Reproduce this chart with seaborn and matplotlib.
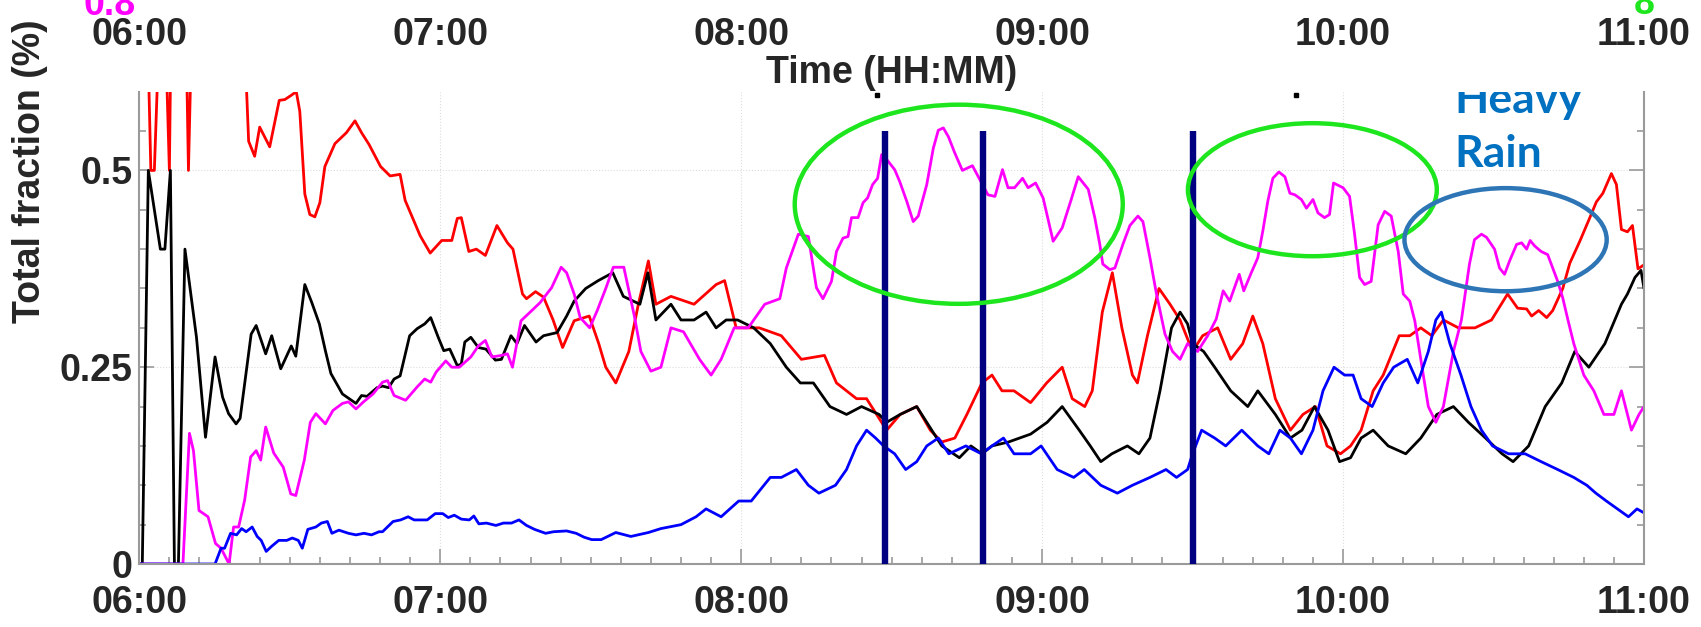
import numpy as np
import pandas as pd
import matplotlib
matplotlib.use("Agg")
import matplotlib.pyplot as plt
import matplotlib.transforms as mtransforms
from matplotlib.patches import Ellipse
from matplotlib.ticker import MultipleLocator, FixedLocator, FuncFormatter
import seaborn as sns

# ---- series: minutes after 06:00 and total fraction ----
red_min = [0, 1.5, 2.3, 3.0, 4.2, 5.0, 6.0, 6.4, 9.2, 9.8, 10.6, 15, 21.4, 21.8, 23, 24, 26, 27.9, 29, 30.2,
           31.3, 32, 33, 34, 35, 36, 37, 39, 41.3, 43, 44.3, 45.8, 48.1, 50, 52, 53, 54.6, 56, 58, 60.3,
           62.3, 63.4, 64.2, 65.7, 67.2, 69, 71.3, 73.4, 74.5, 76.4, 77.2, 79, 80.6, 82.5, 84.4, 86.7, 89.7,
           91.6, 93, 95, 97.6, 99.5, 101.5, 103, 106, 110.6, 115, 116.7, 119, 123.6, 128, 132, 136.6, 139,
           143, 145, 149, 151.7, 155, 157.7, 160, 162.6, 165, 168, 170, 172, 174.4, 177.7, 180.9, 184, 186,
           188.5, 190, 192, 194, 195.9, 198, 199, 201, 203.3, 205.5, 207.5, 210, 212, 215, 217.6, 220, 222,
           224, 226.5, 229.5, 232, 234.5, 236.8, 239.5, 241.5, 243.6, 246, 248, 251.2, 253.3, 255.5, 257.7,
           260, 263, 266.3, 269.6, 272.8, 273.8, 274.8, 276.6, 277.6, 279, 280.6, 281.8, 283.8, 285.2, 287.2,
           289.2, 290.5, 291.8, 293.5, 294.5, 295.5, 296.7, 297.7, 298.8, 300]
red_val = [0.72, 0.72, 0.50, 0.50, 0.72, 0.72, 0.50, 0.72, 0.72, 0.50, 0.72, 0.70, 0.60, 0.537, 0.518, 0.555,
           0.53, 0.589, 0.59, 0.595, 0.60, 0.575, 0.47, 0.444, 0.441, 0.459, 0.505, 0.534, 0.548, 0.563, 0.548,
           0.533, 0.505, 0.493, 0.495, 0.462, 0.438, 0.417, 0.395, 0.411, 0.411, 0.439, 0.44, 0.397, 0.40,
           0.392, 0.43, 0.408, 0.40, 0.343, 0.337, 0.346, 0.339, 0.31, 0.275, 0.309, 0.315, 0.28, 0.25, 0.23,
           0.27, 0.33, 0.385, 0.33, 0.34, 0.33, 0.355, 0.36, 0.30, 0.30, 0.29, 0.26, 0.265, 0.23, 0.21, 0.21,
           0.17, 0.19, 0.20, 0.17, 0.155, 0.16, 0.19, 0.23, 0.24, 0.22, 0.22, 0.205, 0.23, 0.25, 0.21, 0.20,
           0.22, 0.32, 0.37, 0.30, 0.24, 0.23, 0.29, 0.35, 0.33, 0.31, 0.27, 0.29, 0.30, 0.26, 0.28, 0.315,
           0.28, 0.21, 0.17, 0.19, 0.20, 0.15, 0.14, 0.15, 0.17, 0.22, 0.24, 0.29, 0.29, 0.30, 0.29, 0.31,
           0.30, 0.30, 0.31, 0.343, 0.334, 0.325, 0.324, 0.315, 0.322, 0.313, 0.322, 0.35, 0.382, 0.41, 0.44,
           0.46, 0.471, 0.496, 0.482, 0.425, 0.422, 0.43, 0.375, 0.38]

black_min = [0, 0.6, 1.8, 4.2, 5.1, 6.2, 7.0, 7.8, 9.1, 11.4, 13.2, 15.1, 16.6, 17.8, 19.3, 20.1, 22.3, 23.3,
             25.2, 26.4, 28.2, 30.3, 31.2, 33, 34.4, 35.9, 37.1, 38.2, 40.5, 43.2, 44.3, 45.4, 47.4, 48.5,
             49.7, 50.8, 52, 53.9, 55.4, 56.9, 58.1, 59.6, 60.7, 61.9, 63.4, 64.2, 64.9, 66.1, 67.6, 69.1, 71,
             72.2, 74.1, 75.3, 76.8, 79.1, 80.6, 83.3, 85.2, 86.7, 89, 91.5, 94.4, 96.5, 99.8, 101.4, 103, 106,
             108, 110.6, 113, 115, 117, 119.3, 122.5, 125.8, 129, 131.8, 134.4, 137.7, 141, 144, 147.5, 149,
             151.7, 155, 157, 160, 163.5, 165.8, 168, 170, 173.3, 177.7, 181, 184, 187.4, 189.6, 191.7, 193.9,
             197, 199.3, 201.5, 203.5, 205.8, 207.5, 209, 210, 212.2, 214.4, 217.6, 221, 223, 226.5, 229.5,
             231.8, 234.3, 237, 239.3, 241.5, 243.6, 246, 249, 252.5, 255.5, 258.7, 262, 265, 268.4, 271.7,
             273.9, 277, 280.3, 283.6, 286.2, 289, 292.2, 295.5, 296.7, 298.2, 299.4, 300]
black_val = [0, 0, 0.50, 0.40, 0.40, 0.50, 0, 0, 0.40, 0.288, 0.161, 0.263, 0.212, 0.191, 0.178, 0.185, 0.292,
             0.303, 0.267, 0.29, 0.248, 0.277, 0.264, 0.355, 0.332, 0.305, 0.271, 0.242, 0.216, 0.204, 0.214,
             0.213, 0.224, 0.226, 0.224, 0.235, 0.239, 0.29, 0.299, 0.305, 0.313, 0.288, 0.271, 0.273, 0.252,
             0.254, 0.282, 0.288, 0.275, 0.273, 0.259, 0.26, 0.29, 0.28, 0.303, 0.282, 0.29, 0.294, 0.315,
             0.334, 0.35, 0.36, 0.37, 0.34, 0.33, 0.37, 0.31, 0.33, 0.31, 0.31, 0.32, 0.30, 0.31, 0.31, 0.30,
             0.28, 0.25, 0.23, 0.23, 0.20, 0.19, 0.20, 0.19, 0.18, 0.19, 0.20, 0.18, 0.15, 0.135, 0.15, 0.14,
             0.15, 0.155, 0.165, 0.18, 0.20, 0.17, 0.15, 0.13, 0.14, 0.15, 0.14, 0.16, 0.22, 0.30, 0.32, 0.305,
             0.28, 0.27, 0.25, 0.22, 0.20, 0.22, 0.19, 0.16, 0.17, 0.20, 0.17, 0.13, 0.135, 0.16, 0.17, 0.15,
             0.14, 0.16, 0.19, 0.20, 0.18, 0.16, 0.14, 0.13, 0.15, 0.20, 0.23, 0.27, 0.25, 0.28, 0.33, 0.343,
             0.364, 0.373, 0.35]

magenta_min = [0, 8.7, 10, 10.8, 11.9, 13.7, 15.2, 16.3, 17.9, 18.8, 19.8, 21, 22.2, 23.3, 24.2, 25.2, 26.8,
               28.7, 30.2, 31.2, 32.9, 34.1, 35.2, 37.1, 38.6, 40.5, 41.7, 43.2, 44.7, 46.6, 48.5, 49.5, 50.8,
               53.1, 55.4, 56.9, 58.1, 59.2, 61.1, 62.3, 63.8, 66.1, 67.6, 69, 70.3, 72.2, 73.4, 74.4, 76.1,
               77.6, 79.9, 82.2, 84.1, 85.2, 86.7, 87.9, 89.8, 91.3, 93, 94.5, 96.6, 98.7, 100, 102, 104, 106,
               108.5, 111.7, 114, 116, 118.6, 121.4, 124.7, 127.7, 129, 131.4, 133.4, 135, 136.3, 138, 139,
               140.3, 141.3, 142, 143.3, 144.3, 145.2, 146.2, 147.2, 148, 149, 150.6, 151.6, 153, 154.3, 155.3,
               157, 158.3, 159.3, 160.3, 161.3, 162.6, 164.1, 166.1, 167.6, 169.2, 170.6, 172.1, 173.2, 174.5,
               176.1, 177.2, 178.7, 180.2, 182.2, 184, 185.8, 187.2, 189.2, 190.5, 191.5, 192.1, 193.5, 194.5,
               196.1, 197.5, 199.1, 200.1, 201.5, 202.8, 204.5, 206, 207.5, 209, 211, 213, 214.7, 216.1, 217.4,
               219.3, 220.2, 221.7, 223, 224, 225, 226, 227.2, 228.4, 229.4, 230.4, 231.7, 232.7, 234, 235,
               236.3, 237.3, 238.1, 240, 241.3, 242.3, 243.3, 244.3, 245.6, 247, 248.3, 249.6, 251, 252, 253.3,
               254.3, 255.5, 257, 258.5, 260, 262, 263.6, 265.2, 266.2, 267.6, 268.6, 270.2, 271.2, 272.2,
               273.2, 274.6, 275.6, 276.6, 277.3, 278.2, 279.5, 280.8, 281.8, 282.8, 283.8, 284.8, 286, 288,
               290, 292, 294, 295.5, 297.5, 299, 300]
magenta_val = [0, 0, 0.166, 0.144, 0.068, 0.06, 0.026, 0.02, 0, 0.047, 0.047, 0.081, 0.136, 0.144, 0.132,
               0.174, 0.141, 0.123, 0.089, 0.087, 0.132, 0.18, 0.191, 0.178, 0.195, 0.204, 0.206, 0.197, 0.206,
               0.216, 0.231, 0.233, 0.214, 0.208, 0.225, 0.235, 0.231, 0.244, 0.258, 0.25, 0.25, 0.263, 0.277,
               0.284, 0.263, 0.265, 0.267, 0.25, 0.309, 0.318, 0.332, 0.351, 0.377, 0.37, 0.343, 0.313, 0.30,
               0.322, 0.35, 0.377, 0.377, 0.315, 0.27, 0.245, 0.25, 0.30, 0.295, 0.26, 0.24, 0.26, 0.30, 0.30,
               0.33, 0.337, 0.376, 0.419, 0.416, 0.351, 0.337, 0.359, 0.397, 0.414, 0.416, 0.44, 0.44, 0.459,
               0.465, 0.482, 0.49, 0.52, 0.514, 0.501, 0.486, 0.461, 0.435, 0.442, 0.482, 0.528, 0.551, 0.554,
               0.543, 0.522, 0.50, 0.506, 0.488, 0.469, 0.467, 0.501, 0.478, 0.478, 0.49, 0.478, 0.484, 0.465,
               0.41, 0.427, 0.463, 0.492, 0.476, 0.44, 0.406, 0.381, 0.374, 0.376, 0.406, 0.43, 0.442, 0.435,
               0.389, 0.343, 0.292, 0.27, 0.26, 0.28, 0.27, 0.29, 0.311, 0.347, 0.334, 0.368, 0.347, 0.37,
               0.389, 0.423, 0.461, 0.49, 0.498, 0.492, 0.471, 0.469, 0.463, 0.452, 0.463, 0.446, 0.44, 0.444,
               0.484, 0.478, 0.467, 0.419, 0.364, 0.355, 0.359, 0.431, 0.448, 0.442, 0.397, 0.343, 0.334, 0.309,
               0.26, 0.20, 0.18, 0.20, 0.27, 0.31, 0.381, 0.412, 0.419, 0.415, 0.40, 0.376, 0.368, 0.385, 0.406,
               0.408, 0.40, 0.411, 0.404, 0.397, 0.393, 0.376, 0.359, 0.338, 0.311, 0.28, 0.24, 0.22, 0.19,
               0.19, 0.22, 0.17, 0.19, 0.20]

blue_min = [0, 15.1, 16.3, 17, 18.2, 19.4, 20.4, 21.3, 22.5, 23.5, 24.3, 25.3, 26.3, 27.8, 29.4, 30.5, 31.7,
            32.5, 33.6, 35.2, 36.3, 37.5, 38.4, 39.8, 41.7, 43.2, 44.8, 46.3, 47.8, 48.5, 50.6, 52.1, 53.6,
            54.8, 57.4, 59, 60.5, 61.6, 62.8, 64.2, 65.8, 66.7, 67.7, 69.2, 71.1, 72.6, 74.2, 75.7, 77.2, 78.8,
            81, 82.6, 85.2, 87.1, 88.7, 90.2, 92.1, 95, 98, 101.5, 104, 108, 111, 113, 116, 119.5, 122, 125.8,
            128, 131, 133.4, 135.5, 138.8, 141, 143, 145, 146.8, 148.4, 150.6, 152.8, 155, 157, 159.3, 161.4,
            164.8, 167.9, 170, 172.3, 174.4, 177.7, 179.8, 183, 186.3, 188.4, 191.7, 195, 198, 201.5, 204.7,
            206.8, 209, 210, 211.8, 214.4, 216.6, 219.8, 223, 225.2, 227.4, 229.5, 231.7, 234, 236, 238.2,
            240.3, 242, 243.6, 245.8, 248, 250.1, 252.8, 254.9, 257, 258.5, 259.6, 261.3, 263.5, 265.5, 267.6,
            269.8, 273, 276.3, 279.5, 282.8, 286, 288.6, 290.4, 292.5, 294.7, 296.9, 298.6, 300]
blue_val = [0, 0, 0.02, 0.02, 0.039, 0.037, 0.045, 0.041, 0.047, 0.035, 0.03, 0.016, 0.022, 0.03, 0.03, 0.033,
            0.03, 0.02, 0.044, 0.047, 0.052, 0.054, 0.039, 0.043, 0.039, 0.037, 0.039, 0.037, 0.041, 0.041,
            0.054, 0.056, 0.06, 0.056, 0.056, 0.064, 0.064, 0.059, 0.062, 0.057, 0.056, 0.061, 0.051, 0.052,
            0.049, 0.052, 0.052, 0.056, 0.049, 0.044, 0.039, 0.041, 0.042, 0.039, 0.034, 0.031, 0.031, 0.04,
            0.035, 0.04, 0.045, 0.05, 0.06, 0.07, 0.06, 0.08, 0.08, 0.11, 0.11, 0.12, 0.10, 0.09, 0.10, 0.12,
            0.15, 0.17, 0.16, 0.15, 0.14, 0.12, 0.13, 0.15, 0.16, 0.14, 0.15, 0.14, 0.15, 0.16, 0.14, 0.14,
            0.15, 0.12, 0.11, 0.12, 0.10, 0.09, 0.10, 0.11, 0.12, 0.11, 0.12, 0.14, 0.17, 0.16, 0.15, 0.17,
            0.15, 0.14, 0.17, 0.16, 0.14, 0.17, 0.22, 0.25, 0.24, 0.24, 0.21, 0.20, 0.23, 0.25, 0.26, 0.23,
            0.27, 0.31, 0.32, 0.28, 0.24, 0.20, 0.17, 0.15, 0.14, 0.14, 0.13, 0.12, 0.11, 0.10, 0.09, 0.08,
            0.07, 0.06, 0.07, 0.065]

# event markers (minutes after 06:00)
event_min = [148.6, 168.2, 210.1]

hour_ticks = [6, 7, 8, 9, 10, 11]
hour_labels = ["06:00", "07:00", "08:00", "09:00", "10:00", "11:00"]
y_ticks = [0, 0.25, 0.5]
y_labels = ["0", "0.25", "0.5"]

series = {
    "red": (red_min, red_val, "#FF0000"),
    "black": (black_min, black_val, "#000000"),
    "magenta": (magenta_min, magenta_val, "#FF00FF"),
    "blue": (blue_min, blue_val, "#0000FF"),
}

frames = []
for name, (mins, vals, _) in series.items():
    frames.append(pd.DataFrame({"hour": 6 + np.asarray(mins) / 60.0, "value": vals, "series": name}))
df = pd.concat(frames, ignore_index=True)
palette = {name: c for name, (_, _, c) in series.items()}

sns.set_theme(style="white")
plt.rcParams["font.family"] = ["Liberation Sans", "DejaVu Sans"]
plt.rcParams["font.weight"] = "bold"

LABEL_SIZE = 27

fig = plt.figure(figsize=(17.01, 6.27), dpi=100)
ax = fig.add_axes([139.3 / 1701, 1 - 564 / 627, (1644 - 139.3) / 1701, (564 - 91.7) / 627])

sns.lineplot(data=df, x="hour", y="value", hue="series", palette=palette, estimator=None,
             legend=False, linewidth=2.0, ax=ax)

ax.set_xlim(6, 11)
ax.set_ylim(0, 0.6)
ax.set_xlabel("")
ax.set_ylabel("")

# grid
for h in hour_ticks[1:-1]:
    ax.axvline(h, color="#dcdcdc", lw=0.8, ls=":", zorder=0)
for v in y_ticks[1:]:
    ax.axhline(v, color="#dcdcdc", lw=0.8, ls=":", zorder=0)

# spines & ticks
for s in ["left", "right", "bottom"]:
    ax.spines[s].set_color("#9a9a9a")
    ax.spines[s].set_linewidth(1.5)
ax.spines["top"].set_visible(False)

ax.xaxis.set_major_locator(FixedLocator(hour_ticks))
ax.xaxis.set_major_formatter(FuncFormatter(lambda x, p: hour_labels[hour_ticks.index(int(round(x)))]))
ax.xaxis.set_minor_locator(MultipleLocator(0.1))
ax.yaxis.set_major_locator(FixedLocator(y_ticks))
ax.yaxis.set_major_formatter(FuncFormatter(lambda y, p: y_labels[y_ticks.index(round(y, 2))]))
ax.yaxis.set_minor_locator(FixedLocator(np.arange(0.05, 0.56, 0.05)))
ax.tick_params(axis="both", which="both", direction="in", color="#9a9a9a", width=1.2)
ax.tick_params(axis="both", which="major", length=11)
ax.tick_params(axis="both", which="minor", length=5)
ax.tick_params(axis="x", which="both", top=False, bottom=True, labelsize=LABEL_SIZE, pad=15)
ax.tick_params(axis="y", which="both", left=True, right=True, labelsize=LABEL_SIZE, pad=5)
for lab in ax.get_xticklabels() + ax.get_yticklabels():
    lab.set_fontweight("bold")

# event lines
ax.vlines([6 + m / 60 for m in event_min], 0, 0.55, color="#000080", lw=4.6, zorder=5)

# highlight ellipses
ax.add_patch(Ellipse((8.723, 0.457), 1.090, 0.253, fill=False, ec="#1EE61E", lw=3.2, zorder=6))
ax.add_patch(Ellipse((9.898, 0.4755), 0.827, 0.169, fill=False, ec="#1EE61E", lw=3.2, zorder=6))
ax.add_patch(Ellipse((10.540, 0.412), 0.672, 0.131, fill=False, ec="#2E75B6", lw=3.2, zorder=6))

ax.text(10.371, 0.5725, "Heavy", color="#0070C0", fontsize=32, fontweight="bold",
        family=["Lato", "DejaVu Sans"], va="baseline", ha="left", clip_on=True, zorder=7)
ax.text(10.371, 0.5038, "Rain", color="#0070C0", fontsize=32, fontweight="bold",
        family=["Lato", "DejaVu Sans"], va="baseline", ha="left", clip_on=True, zorder=7)

# small tick remnants at top edge
ax.plot([8.450, 9.845], [0.596, 0.596], "s", ms=3, color="black", clip_on=False, zorder=7)

# upper time axis
trans = mtransforms.blended_transform_factory(ax.transData, fig.transFigure)
for h, lab in zip(hour_ticks, hour_labels):
    ax.text(h, 1 - 45 / 627, lab, transform=trans, ha="center", va="baseline",
            fontsize=LABEL_SIZE, fontweight="bold", clip_on=False)
fig.text((139.3 + 1644) / 2 / 1701, 1 - 83 / 627, "Time (HH:MM)", ha="center", va="baseline",
         fontsize=LABEL_SIZE, fontweight="bold")
fig.text(110 / 1701, 1 - 15 / 627, "0.8", ha="center", va="baseline", fontsize=LABEL_SIZE,
         fontweight="bold", color="#FF00FF")
fig.text(1644 / 1701, 1 - 14 / 627, "8", ha="center", va="baseline", fontsize=LABEL_SIZE,
         fontweight="bold", color="#1EE61E")

fig.text(30 / 1701, 1 - 323 / 627, "Total fraction (%)", rotation=90, ha="center", va="bottom",
         fontsize=LABEL_SIZE, fontweight="bold")

fig.savefig("out.png", dpi=100, facecolor="white")
